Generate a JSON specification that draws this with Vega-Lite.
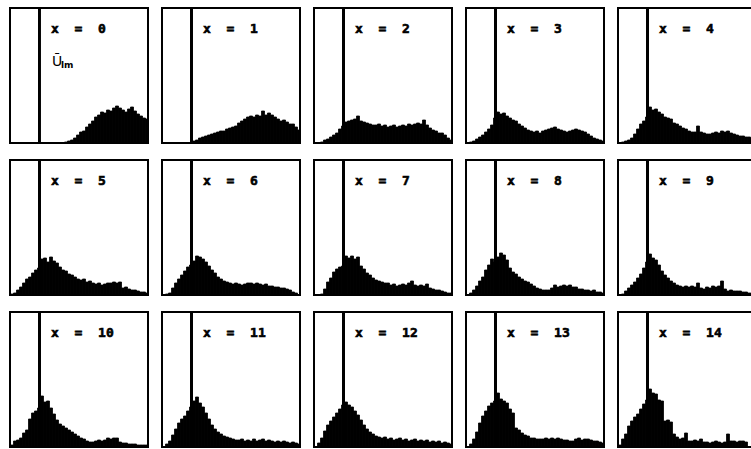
{
  "$schema": "https://vega.github.io/schema/vega-lite/v6.json",
  "background": "white",
  "padding": {"left": 9, "top": 6, "right": 0, "bottom": 0},
  "data": {"values": [
    {"x":0,"i":18,"h":1},{"x":0,"i":19,"h":2},{"x":0,"i":20,"h":3},{"x":0,"i":21,"h":5},{"x":0,"i":22,"h":8},{"x":0,"i":23,"h":11},{"x":0,"i":24,"h":12},{"x":0,"i":25,"h":16},{"x":0,"i":26,"h":19},{"x":0,"i":27,"h":22},{"x":0,"i":28,"h":26},{"x":0,"i":29,"h":28},{"x":0,"i":30,"h":31},{"x":0,"i":31,"h":30},{"x":0,"i":32,"h":33},{"x":0,"i":33,"h":32},{"x":0,"i":34,"h":35},{"x":0,"i":35,"h":37},{"x":0,"i":36,"h":35},{"x":0,"i":37,"h":33},{"x":0,"i":38,"h":31},{"x":0,"i":39,"h":34},{"x":0,"i":40,"h":36},{"x":0,"i":41,"h":32},{"x":0,"i":42,"h":29},{"x":0,"i":43,"h":27},{"x":0,"i":44,"h":25},{"x":0,"i":45,"h":24},
    {"x":1,"i":10,"h":2},{"x":1,"i":11,"h":3},{"x":1,"i":12,"h":5},{"x":1,"i":13,"h":6},{"x":1,"i":14,"h":7},{"x":1,"i":15,"h":8},{"x":1,"i":16,"h":9},{"x":1,"i":17,"h":10},{"x":1,"i":18,"h":11},{"x":1,"i":19,"h":12},{"x":1,"i":20,"h":12},{"x":1,"i":21,"h":14},{"x":1,"i":22,"h":15},{"x":1,"i":23,"h":16},{"x":1,"i":24,"h":17},{"x":1,"i":25,"h":20},{"x":1,"i":26,"h":22},{"x":1,"i":27,"h":24},{"x":1,"i":28,"h":26},{"x":1,"i":29,"h":27},{"x":1,"i":30,"h":26},{"x":1,"i":31,"h":28},{"x":1,"i":32,"h":27},{"x":1,"i":33,"h":32},{"x":1,"i":34,"h":28},{"x":1,"i":35,"h":30},{"x":1,"i":36,"h":28},{"x":1,"i":37,"h":26},{"x":1,"i":38,"h":24},{"x":1,"i":39,"h":22},{"x":1,"i":40,"h":23},{"x":1,"i":41,"h":21},{"x":1,"i":42,"h":19},{"x":1,"i":43,"h":19},{"x":1,"i":44,"h":16},{"x":1,"i":45,"h":13},
    {"x":2,"i":2,"h":1},{"x":2,"i":3,"h":3},{"x":2,"i":4,"h":4},{"x":2,"i":5,"h":6},{"x":2,"i":6,"h":8},{"x":2,"i":7,"h":10},{"x":2,"i":8,"h":14},{"x":2,"i":9,"h":17},{"x":2,"i":10,"h":21},{"x":2,"i":11,"h":22},{"x":2,"i":12,"h":23},{"x":2,"i":13,"h":24},{"x":2,"i":14,"h":27},{"x":2,"i":15,"h":22},{"x":2,"i":16,"h":21},{"x":2,"i":17,"h":20},{"x":2,"i":18,"h":19},{"x":2,"i":19,"h":18},{"x":2,"i":20,"h":18},{"x":2,"i":21,"h":19},{"x":2,"i":22,"h":17},{"x":2,"i":23,"h":18},{"x":2,"i":24,"h":16},{"x":2,"i":25,"h":17},{"x":2,"i":26,"h":18},{"x":2,"i":27,"h":16},{"x":2,"i":28,"h":17},{"x":2,"i":29,"h":18},{"x":2,"i":30,"h":17},{"x":2,"i":31,"h":19},{"x":2,"i":32,"h":18},{"x":2,"i":33,"h":19},{"x":2,"i":34,"h":20},{"x":2,"i":35,"h":19},{"x":2,"i":36,"h":23},{"x":2,"i":37,"h":18},{"x":2,"i":38,"h":15},{"x":2,"i":39,"h":13},{"x":2,"i":40,"h":12},{"x":2,"i":41,"h":10},{"x":2,"i":42,"h":10},{"x":2,"i":43,"h":8},{"x":2,"i":44,"h":5},{"x":2,"i":45,"h":3},
    {"x":3,"i":1,"h":1},{"x":3,"i":2,"h":2},{"x":3,"i":3,"h":4},{"x":3,"i":4,"h":6},{"x":3,"i":5,"h":8},{"x":3,"i":6,"h":11},{"x":3,"i":7,"h":14},{"x":3,"i":8,"h":18},{"x":3,"i":9,"h":25},{"x":3,"i":10,"h":31},{"x":3,"i":11,"h":29},{"x":3,"i":12,"h":30},{"x":3,"i":13,"h":27},{"x":3,"i":14,"h":25},{"x":3,"i":15,"h":23},{"x":3,"i":16,"h":22},{"x":3,"i":17,"h":19},{"x":3,"i":18,"h":17},{"x":3,"i":19,"h":15},{"x":3,"i":20,"h":13},{"x":3,"i":21,"h":12},{"x":3,"i":22,"h":11},{"x":3,"i":23,"h":12},{"x":3,"i":24,"h":10},{"x":3,"i":25,"h":12},{"x":3,"i":26,"h":13},{"x":3,"i":27,"h":14},{"x":3,"i":28,"h":15},{"x":3,"i":29,"h":16},{"x":3,"i":30,"h":14},{"x":3,"i":31,"h":13},{"x":3,"i":32,"h":12},{"x":3,"i":33,"h":11},{"x":3,"i":34,"h":12},{"x":3,"i":35,"h":13},{"x":3,"i":36,"h":14},{"x":3,"i":37,"h":13},{"x":3,"i":38,"h":12},{"x":3,"i":39,"h":11},{"x":3,"i":40,"h":9},{"x":3,"i":41,"h":7},{"x":3,"i":42,"h":5},{"x":3,"i":43,"h":4},{"x":3,"i":44,"h":3},{"x":3,"i":45,"h":2},
    {"x":4,"i":1,"h":1},{"x":4,"i":2,"h":2},{"x":4,"i":3,"h":3},{"x":4,"i":4,"h":5},{"x":4,"i":5,"h":9},{"x":4,"i":6,"h":14},{"x":4,"i":7,"h":19},{"x":4,"i":8,"h":22},{"x":4,"i":9,"h":26},{"x":4,"i":10,"h":36},{"x":4,"i":11,"h":33},{"x":4,"i":12,"h":34},{"x":4,"i":13,"h":31},{"x":4,"i":14,"h":29},{"x":4,"i":15,"h":26},{"x":4,"i":16,"h":25},{"x":4,"i":17,"h":24},{"x":4,"i":18,"h":20},{"x":4,"i":19,"h":19},{"x":4,"i":20,"h":17},{"x":4,"i":21,"h":15},{"x":4,"i":22,"h":14},{"x":4,"i":23,"h":12},{"x":4,"i":24,"h":11},{"x":4,"i":25,"h":11},{"x":4,"i":26,"h":17},{"x":4,"i":27,"h":11},{"x":4,"i":28,"h":10},{"x":4,"i":29,"h":9},{"x":4,"i":30,"h":9},{"x":4,"i":31,"h":10},{"x":4,"i":32,"h":11},{"x":4,"i":33,"h":10},{"x":4,"i":34,"h":12},{"x":4,"i":35,"h":11},{"x":4,"i":36,"h":12},{"x":4,"i":37,"h":10},{"x":4,"i":38,"h":9},{"x":4,"i":39,"h":8},{"x":4,"i":40,"h":7},{"x":4,"i":41,"h":7},{"x":4,"i":42,"h":6},{"x":4,"i":43,"h":6},{"x":4,"i":44,"h":5},{"x":4,"i":45,"h":4},
    {"x":5,"i":0,"h":1},{"x":5,"i":1,"h":2},{"x":5,"i":2,"h":5},{"x":5,"i":3,"h":8},{"x":5,"i":4,"h":12},{"x":5,"i":5,"h":16},{"x":5,"i":6,"h":18},{"x":5,"i":7,"h":22},{"x":5,"i":8,"h":25},{"x":5,"i":9,"h":27},{"x":5,"i":10,"h":36},{"x":5,"i":11,"h":37},{"x":5,"i":12,"h":33},{"x":5,"i":13,"h":38},{"x":5,"i":14,"h":34},{"x":5,"i":15,"h":32},{"x":5,"i":16,"h":28},{"x":5,"i":17,"h":25},{"x":5,"i":18,"h":24},{"x":5,"i":19,"h":21},{"x":5,"i":20,"h":20},{"x":5,"i":21,"h":18},{"x":5,"i":22,"h":16},{"x":5,"i":23,"h":15},{"x":5,"i":24,"h":16},{"x":5,"i":25,"h":13},{"x":5,"i":26,"h":14},{"x":5,"i":27,"h":12},{"x":5,"i":28,"h":11},{"x":5,"i":29,"h":12},{"x":5,"i":30,"h":10},{"x":5,"i":31,"h":11},{"x":5,"i":32,"h":12},{"x":5,"i":33,"h":12},{"x":5,"i":34,"h":13},{"x":5,"i":35,"h":12},{"x":5,"i":36,"h":13},{"x":5,"i":37,"h":7},{"x":5,"i":38,"h":8},{"x":5,"i":39,"h":6},{"x":5,"i":40,"h":5},{"x":5,"i":41,"h":5},{"x":5,"i":42,"h":4},{"x":5,"i":43,"h":3},{"x":5,"i":44,"h":3},{"x":5,"i":45,"h":2},
    {"x":6,"i":1,"h":1},{"x":6,"i":2,"h":2},{"x":6,"i":3,"h":7},{"x":6,"i":4,"h":12},{"x":6,"i":5,"h":16},{"x":6,"i":6,"h":20},{"x":6,"i":7,"h":24},{"x":6,"i":8,"h":28},{"x":6,"i":9,"h":30},{"x":6,"i":10,"h":34},{"x":6,"i":11,"h":39},{"x":6,"i":12,"h":38},{"x":6,"i":13,"h":36},{"x":6,"i":14,"h":33},{"x":6,"i":15,"h":29},{"x":6,"i":16,"h":25},{"x":6,"i":17,"h":22},{"x":6,"i":18,"h":18},{"x":6,"i":19,"h":16},{"x":6,"i":20,"h":14},{"x":6,"i":21,"h":13},{"x":6,"i":22,"h":12},{"x":6,"i":23,"h":11},{"x":6,"i":24,"h":12},{"x":6,"i":25,"h":11},{"x":6,"i":26,"h":10},{"x":6,"i":27,"h":11},{"x":6,"i":28,"h":12},{"x":6,"i":29,"h":12},{"x":6,"i":30,"h":11},{"x":6,"i":31,"h":12},{"x":6,"i":32,"h":11},{"x":6,"i":33,"h":10},{"x":6,"i":34,"h":11},{"x":6,"i":35,"h":9},{"x":6,"i":36,"h":9},{"x":6,"i":37,"h":8},{"x":6,"i":38,"h":8},{"x":6,"i":39,"h":7},{"x":6,"i":40,"h":7},{"x":6,"i":41,"h":6},{"x":6,"i":42,"h":5},{"x":6,"i":43,"h":3},{"x":6,"i":44,"h":2},
    {"x":7,"i":2,"h":1},{"x":7,"i":3,"h":6},{"x":7,"i":4,"h":13},{"x":7,"i":5,"h":17},{"x":7,"i":6,"h":23},{"x":7,"i":7,"h":26},{"x":7,"i":8,"h":28},{"x":7,"i":9,"h":29},{"x":7,"i":10,"h":39},{"x":7,"i":11,"h":37},{"x":7,"i":12,"h":39},{"x":7,"i":13,"h":36},{"x":7,"i":14,"h":38},{"x":7,"i":15,"h":29},{"x":7,"i":16,"h":26},{"x":7,"i":17,"h":22},{"x":7,"i":18,"h":20},{"x":7,"i":19,"h":17},{"x":7,"i":20,"h":15},{"x":7,"i":21,"h":14},{"x":7,"i":22,"h":13},{"x":7,"i":23,"h":12},{"x":7,"i":24,"h":12},{"x":7,"i":25,"h":10},{"x":7,"i":26,"h":11},{"x":7,"i":27,"h":9},{"x":7,"i":28,"h":10},{"x":7,"i":29,"h":11},{"x":7,"i":30,"h":10},{"x":7,"i":31,"h":12},{"x":7,"i":32,"h":14},{"x":7,"i":33,"h":10},{"x":7,"i":34,"h":9},{"x":7,"i":35,"h":10},{"x":7,"i":36,"h":9},{"x":7,"i":37,"h":11},{"x":7,"i":38,"h":7},{"x":7,"i":39,"h":6},{"x":7,"i":40,"h":5},{"x":7,"i":41,"h":5},{"x":7,"i":42,"h":4},{"x":7,"i":43,"h":3},{"x":7,"i":44,"h":2},{"x":7,"i":45,"h":2},
    {"x":8,"i":1,"h":2},{"x":8,"i":2,"h":5},{"x":8,"i":3,"h":9},{"x":8,"i":4,"h":14},{"x":8,"i":5,"h":18},{"x":8,"i":6,"h":25},{"x":8,"i":7,"h":30},{"x":8,"i":8,"h":36},{"x":8,"i":9,"h":33},{"x":8,"i":10,"h":38},{"x":8,"i":11,"h":42},{"x":8,"i":12,"h":40},{"x":8,"i":13,"h":35},{"x":8,"i":14,"h":27},{"x":8,"i":15,"h":23},{"x":8,"i":16,"h":21},{"x":8,"i":17,"h":18},{"x":8,"i":18,"h":16},{"x":8,"i":19,"h":14},{"x":8,"i":20,"h":13},{"x":8,"i":21,"h":11},{"x":8,"i":22,"h":9},{"x":8,"i":23,"h":7},{"x":8,"i":24,"h":6},{"x":8,"i":25,"h":5},{"x":8,"i":26,"h":5},{"x":8,"i":27,"h":5},{"x":8,"i":28,"h":7},{"x":8,"i":29,"h":10},{"x":8,"i":30,"h":8},{"x":8,"i":31,"h":9},{"x":8,"i":32,"h":10},{"x":8,"i":33,"h":9},{"x":8,"i":34,"h":10},{"x":8,"i":35,"h":8},{"x":8,"i":36,"h":8},{"x":8,"i":37,"h":6},{"x":8,"i":38,"h":6},{"x":8,"i":39,"h":5},{"x":8,"i":40,"h":5},{"x":8,"i":41,"h":4},{"x":8,"i":42,"h":5},{"x":8,"i":43,"h":3},{"x":8,"i":44,"h":3},{"x":8,"i":45,"h":2},
    {"x":9,"i":1,"h":1},{"x":9,"i":2,"h":4},{"x":9,"i":3,"h":7},{"x":9,"i":4,"h":10},{"x":9,"i":5,"h":13},{"x":9,"i":6,"h":17},{"x":9,"i":7,"h":21},{"x":9,"i":8,"h":27},{"x":9,"i":9,"h":33},{"x":9,"i":10,"h":41},{"x":9,"i":11,"h":37},{"x":9,"i":12,"h":35},{"x":9,"i":13,"h":30},{"x":9,"i":14,"h":24},{"x":9,"i":15,"h":20},{"x":9,"i":16,"h":17},{"x":9,"i":17,"h":14},{"x":9,"i":18,"h":12},{"x":9,"i":19,"h":10},{"x":9,"i":20,"h":9},{"x":9,"i":21,"h":8},{"x":9,"i":22,"h":9},{"x":9,"i":23,"h":8},{"x":9,"i":24,"h":9},{"x":9,"i":25,"h":8},{"x":9,"i":26,"h":12},{"x":9,"i":27,"h":7},{"x":9,"i":28,"h":6},{"x":9,"i":29,"h":8},{"x":9,"i":30,"h":7},{"x":9,"i":31,"h":9},{"x":9,"i":32,"h":8},{"x":9,"i":33,"h":9},{"x":9,"i":34,"h":14},{"x":9,"i":35,"h":6},{"x":9,"i":36,"h":4},{"x":9,"i":37,"h":5},{"x":9,"i":38,"h":4},{"x":9,"i":39,"h":4},{"x":9,"i":40,"h":4},{"x":9,"i":41,"h":3},{"x":9,"i":42,"h":3},{"x":9,"i":43,"h":2},{"x":9,"i":44,"h":2},{"x":9,"i":45,"h":2},
    {"x":10,"i":0,"h":2},{"x":10,"i":1,"h":6},{"x":10,"i":2,"h":7},{"x":10,"i":3,"h":9},{"x":10,"i":4,"h":14},{"x":10,"i":5,"h":17},{"x":10,"i":6,"h":28},{"x":10,"i":7,"h":34},{"x":10,"i":8,"h":36},{"x":10,"i":9,"h":39},{"x":10,"i":10,"h":51},{"x":10,"i":11,"h":45},{"x":10,"i":12,"h":46},{"x":10,"i":13,"h":39},{"x":10,"i":14,"h":33},{"x":10,"i":15,"h":27},{"x":10,"i":16,"h":23},{"x":10,"i":17,"h":21},{"x":10,"i":18,"h":19},{"x":10,"i":19,"h":17},{"x":10,"i":20,"h":15},{"x":10,"i":21,"h":13},{"x":10,"i":22,"h":11},{"x":10,"i":23,"h":9},{"x":10,"i":24,"h":8},{"x":10,"i":25,"h":6},{"x":10,"i":26,"h":5},{"x":10,"i":27,"h":5},{"x":10,"i":28,"h":6},{"x":10,"i":29,"h":7},{"x":10,"i":30,"h":6},{"x":10,"i":31,"h":7},{"x":10,"i":32,"h":9},{"x":10,"i":33,"h":8},{"x":10,"i":34,"h":9},{"x":10,"i":35,"h":9},{"x":10,"i":36,"h":5},{"x":10,"i":37,"h":4},{"x":10,"i":38,"h":4},{"x":10,"i":39,"h":3},{"x":10,"i":40,"h":3},{"x":10,"i":41,"h":3},{"x":10,"i":42,"h":2},{"x":10,"i":43,"h":2},{"x":10,"i":44,"h":2},{"x":10,"i":45,"h":2},
    {"x":11,"i":1,"h":3},{"x":11,"i":2,"h":6},{"x":11,"i":3,"h":12},{"x":11,"i":4,"h":18},{"x":11,"i":5,"h":24},{"x":11,"i":6,"h":28},{"x":11,"i":7,"h":31},{"x":11,"i":8,"h":36},{"x":11,"i":9,"h":40},{"x":11,"i":10,"h":46},{"x":11,"i":11,"h":50},{"x":11,"i":12,"h":44},{"x":11,"i":13,"h":40},{"x":11,"i":14,"h":34},{"x":11,"i":15,"h":28},{"x":11,"i":16,"h":22},{"x":11,"i":17,"h":18},{"x":11,"i":18,"h":15},{"x":11,"i":19,"h":13},{"x":11,"i":20,"h":11},{"x":11,"i":21,"h":10},{"x":11,"i":22,"h":9},{"x":11,"i":23,"h":8},{"x":11,"i":24,"h":7},{"x":11,"i":25,"h":7},{"x":11,"i":26,"h":8},{"x":11,"i":27,"h":6},{"x":11,"i":28,"h":7},{"x":11,"i":29,"h":6},{"x":11,"i":30,"h":8},{"x":11,"i":31,"h":6},{"x":11,"i":32,"h":7},{"x":11,"i":33,"h":8},{"x":11,"i":34,"h":6},{"x":11,"i":35,"h":7},{"x":11,"i":36,"h":6},{"x":11,"i":37,"h":5},{"x":11,"i":38,"h":6},{"x":11,"i":39,"h":5},{"x":11,"i":40,"h":6},{"x":11,"i":41,"h":5},{"x":11,"i":42,"h":4},{"x":11,"i":43,"h":5},{"x":11,"i":44,"h":4},{"x":11,"i":45,"h":3},
    {"x":12,"i":1,"h":4},{"x":12,"i":2,"h":9},{"x":12,"i":3,"h":16},{"x":12,"i":4,"h":22},{"x":12,"i":5,"h":26},{"x":12,"i":6,"h":30},{"x":12,"i":7,"h":34},{"x":12,"i":8,"h":38},{"x":12,"i":9,"h":42},{"x":12,"i":10,"h":45},{"x":12,"i":11,"h":42},{"x":12,"i":12,"h":40},{"x":12,"i":13,"h":36},{"x":12,"i":14,"h":32},{"x":12,"i":15,"h":27},{"x":12,"i":16,"h":22},{"x":12,"i":17,"h":18},{"x":12,"i":18,"h":15},{"x":12,"i":19,"h":13},{"x":12,"i":20,"h":11},{"x":12,"i":21,"h":10},{"x":12,"i":22,"h":9},{"x":12,"i":23,"h":10},{"x":12,"i":24,"h":8},{"x":12,"i":25,"h":9},{"x":12,"i":26,"h":7},{"x":12,"i":27,"h":8},{"x":12,"i":28,"h":9},{"x":12,"i":29,"h":7},{"x":12,"i":30,"h":8},{"x":12,"i":31,"h":6},{"x":12,"i":32,"h":7},{"x":12,"i":33,"h":8},{"x":12,"i":34,"h":6},{"x":12,"i":35,"h":7},{"x":12,"i":36,"h":6},{"x":12,"i":37,"h":7},{"x":12,"i":38,"h":5},{"x":12,"i":39,"h":6},{"x":12,"i":40,"h":5},{"x":12,"i":41,"h":6},{"x":12,"i":42,"h":4},{"x":12,"i":43,"h":5},{"x":12,"i":44,"h":4},{"x":12,"i":45,"h":3},
    {"x":13,"i":1,"h":3},{"x":13,"i":2,"h":8},{"x":13,"i":3,"h":15},{"x":13,"i":4,"h":24},{"x":13,"i":5,"h":31},{"x":13,"i":6,"h":36},{"x":13,"i":7,"h":41},{"x":13,"i":8,"h":44},{"x":13,"i":9,"h":46},{"x":13,"i":10,"h":54},{"x":13,"i":11,"h":48},{"x":13,"i":12,"h":46},{"x":13,"i":13,"h":44},{"x":13,"i":14,"h":38},{"x":13,"i":15,"h":34},{"x":13,"i":16,"h":19},{"x":13,"i":17,"h":17},{"x":13,"i":18,"h":14},{"x":13,"i":19,"h":12},{"x":13,"i":20,"h":11},{"x":13,"i":21,"h":9},{"x":13,"i":22,"h":9},{"x":13,"i":23,"h":8},{"x":13,"i":24,"h":8},{"x":13,"i":25,"h":8},{"x":13,"i":26,"h":9},{"x":13,"i":27,"h":8},{"x":13,"i":28,"h":9},{"x":13,"i":29,"h":8},{"x":13,"i":30,"h":9},{"x":13,"i":31,"h":8},{"x":13,"i":32,"h":7},{"x":13,"i":33,"h":7},{"x":13,"i":34,"h":6},{"x":13,"i":35,"h":6},{"x":13,"i":36,"h":8},{"x":13,"i":37,"h":9},{"x":13,"i":38,"h":7},{"x":13,"i":39,"h":8},{"x":13,"i":40,"h":8},{"x":13,"i":41,"h":7},{"x":13,"i":42,"h":6},{"x":13,"i":43,"h":6},{"x":13,"i":44,"h":5},{"x":13,"i":45,"h":4},
    {"x":14,"i":0,"h":2},{"x":14,"i":1,"h":8},{"x":14,"i":2,"h":13},{"x":14,"i":3,"h":21},{"x":14,"i":4,"h":26},{"x":14,"i":5,"h":30},{"x":14,"i":6,"h":33},{"x":14,"i":7,"h":38},{"x":14,"i":8,"h":43},{"x":14,"i":9,"h":47},{"x":14,"i":10,"h":58},{"x":14,"i":11,"h":54},{"x":14,"i":12,"h":53},{"x":14,"i":13,"h":47},{"x":14,"i":14,"h":46},{"x":14,"i":15,"h":26},{"x":14,"i":16,"h":27},{"x":14,"i":17,"h":25},{"x":14,"i":18,"h":13},{"x":14,"i":19,"h":10},{"x":14,"i":20,"h":8},{"x":14,"i":21,"h":9},{"x":14,"i":22,"h":14},{"x":14,"i":23,"h":6},{"x":14,"i":24,"h":6},{"x":14,"i":25,"h":7},{"x":14,"i":26,"h":6},{"x":14,"i":27,"h":8},{"x":14,"i":28,"h":5},{"x":14,"i":29,"h":5},{"x":14,"i":30,"h":4},{"x":14,"i":31,"h":5},{"x":14,"i":32,"h":6},{"x":14,"i":33,"h":5},{"x":14,"i":34,"h":4},{"x":14,"i":35,"h":5},{"x":14,"i":36,"h":13},{"x":14,"i":37,"h":6},{"x":14,"i":38,"h":6},{"x":14,"i":39,"h":5},{"x":14,"i":40,"h":6},{"x":14,"i":41,"h":6},{"x":14,"i":42,"h":5}
  ]},
  "transform": [
    {"calculate": "floor(datum.x / 5)", "as": "gridRow"},
    {"calculate": "datum.x % 5", "as": "gridCol"}
  ],
  "facet": {
    "row": {"field": "gridRow", "type": "ordinal", "header": null},
    "column": {"field": "gridCol", "type": "ordinal", "header": null}
  },
  "spacing": {"row": 13, "column": 11},
  "spec": {
    "width": 138,
    "height": 135,
    "layer": [
      {
        "mark": {"type": "bar", "color": "black", "stroke": "black", "strokeWidth": 0.8, "binSpacing": 0},
        "encoding": {
          "x": {"field": "i", "type": "quantitative", "bin": {"binned": true, "step": 1},
                "scale": {"domain": [0, 46], "nice": false, "zero": false}, "axis": null},
          "y": {"field": "h", "type": "quantitative",
                "scale": {"domain": [0, 135], "nice": false}, "axis": null}
        }
      },
      {
        "mark": {"type": "rule", "color": "black", "strokeWidth": 2},
        "encoding": {"x": {"datum": 9.7}}
      },
      {
        "transform": [
          {"aggregate": [{"op": "count", "as": "n"}], "groupby": ["x"]},
          {"calculate": "'x\u00a0\u00a0=\u00a0\u00a0' + datum.x", "as": "label"}
        ],
        "mark": {"type": "text", "font": "DejaVu Sans Mono", "fontWeight": "bold", "fontSize": 13,
                 "align": "left", "baseline": "alphabetic", "color": "black",
                 "stroke": "black", "strokeWidth": 0.6},
        "encoding": {
          "x": {"datum": 13.7},
          "y": {"datum": 110},
          "text": {"field": "label"}
        }
      },
      {
        "transform": [
          {"aggregate": [{"op": "count", "as": "n"}], "groupby": ["x"]},
          {"filter": "datum.x == 0"}
        ],
        "mark": {"type": "text", "font": "DejaVu Sans", "fontSize": 14,
                 "align": "left", "baseline": "alphabetic", "color": "black"},
        "encoding": {"x": {"datum": 14}, "y": {"datum": 77}, "text": {"value": "Ū"}}
      },
      {
        "transform": [
          {"aggregate": [{"op": "count", "as": "n"}], "groupby": ["x"]},
          {"filter": "datum.x == 0"}
        ],
        "mark": {"type": "text", "font": "DejaVu Sans", "fontSize": 9, "fontWeight": "bold",
                 "align": "left", "baseline": "alphabetic", "color": "black"},
        "encoding": {"x": {"datum": 17}, "y": {"datum": 75}, "text": {"value": "lm"}}
      }
    ]
  },
  "config": {
    "bar": {"binSpacing": 0},
    "view": {"stroke": "black", "strokeWidth": 2, "fill": "white"}
  }
}
